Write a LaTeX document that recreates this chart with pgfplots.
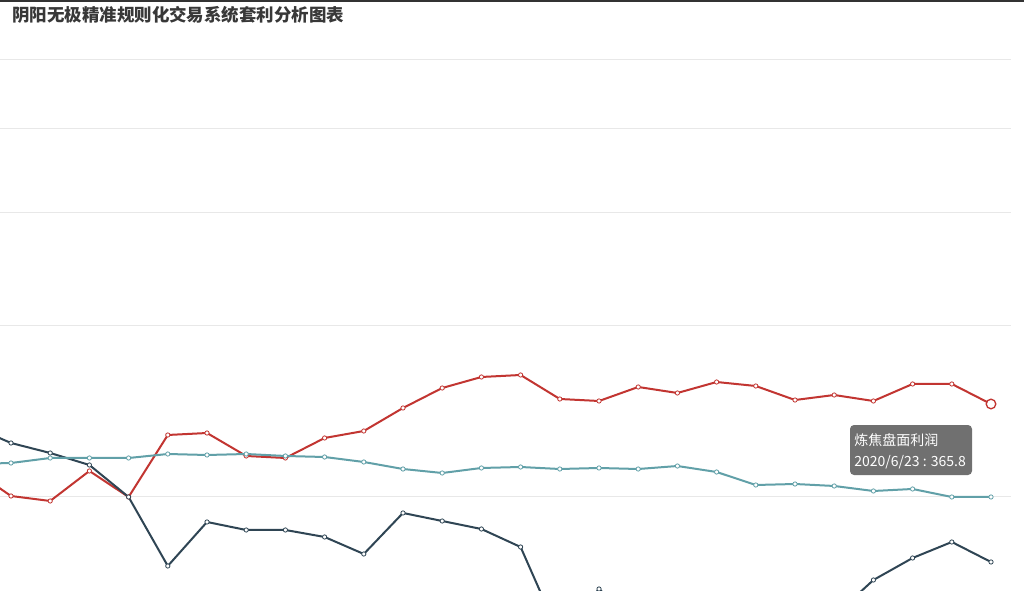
\documentclass[border=0pt]{standalone}
\usepackage{fontspec}
\setmainfont{Noto Sans CJK SC}
\usepackage{pgfplots}
\usepackage{pgfplotstable}
\pgfplotsset{compat=1.18}

\definecolor{ecred}{HTML}{C23531}
\definecolor{ecnavy}{HTML}{2F4554}
\definecolor{ecteal}{HTML}{61A0A8}
\definecolor{titlegray}{HTML}{383838}
\definecolor{tipgray}{HTML}{707070}
\definecolor{gridgray}{HTML}{E8E8E8}
\definecolor{topgray}{HTML}{C8C8C8}

% idx -1 lies left of the visible crop
\pgfplotstableread{
idx red navy teal
-1 110.1 279.3 129.8
0 3.9 212.4 133.7
1 -15.7 173.1 153.4
2 102.3 125.9 153.4
3 0.0 0.0 153.4
4 243.9 -271.4 169.1
5 251.7 -98.3 165.2
6 161.3 -129.8 169.1
7 153.4 -129.8 161.3
8 232.1 -157.3 157.3
9 259.6 -224.2 137.7
10 350.1 -62.9 110.1
11 428.7 -94.4 94.4
12 472.0 -125.9 114.1
13 479.9 -196.7 118.0
14 385.5 -546.7 110.1
15 377.6 -361.9 114.1
16 432.7 -503.5 110.1
17 409.1 -562.5 121.9
18 452.3 -582.1 98.3
19 436.6 -542.8 47.2
20 381.5 -503.5 51.1
21 401.2 -468.1 43.3
22 377.6 -326.5 23.6
23 444.5 -239.9 31.5
24 444.5 -177.0 0.0
25 365.8 -255.7 0.0
}\profit

\begin{document}
\begin{tikzpicture}
\path[use as bounding box] (0pt,0pt) rectangle (768pt,442.5pt);
\clip (0pt,0pt) rectangle (768pt,442.5pt);
\fill[white] (0pt,0pt) rectangle (768pt,442.5pt);
\begin{axis}[
  at={(-50.55pt,397.5pt)}, anchor=north west,
  x=29.4pt, y=0.190678pt,
  xmin=-2, xmax=25.5, ymin=-900, ymax=1718.9,
  axis line style={draw=none},
  xtick=\empty,
  ytick={0,672.6,1117.1,1451.4}, yticklabels={},
  major tick length=0pt,
  ymajorgrids,
  major grid style={color=gridgray, line width=0.75pt},
  extra y ticks={1718.9}, extra y tick labels={},
  extra y tick style={grid style={color=topgray, line width=0.75pt}},
  every axis plot/.append style={line width=1.5pt, mark=*, mark size=1.6pt},
]
\addplot[ecred, mark options={fill=white, line width=0.6pt}] table[x=idx, y=red] {\profit};
\addplot[ecnavy, mark options={fill=white, line width=0.6pt}] table[x=idx, y=navy] {\profit};
\addplot[ecteal, mark options={fill=white, line width=0.6pt}] table[x=idx, y=teal] {\profit};
% hovered point
\addplot[ecred, only marks, mark size=3.6pt, mark options={fill=white, line width=1pt}] coordinates {(25,365.8)};
\end{axis}
\fill[black!80] (0pt,442.5pt) rectangle (768pt,441pt);
\node[anchor=base west, inner sep=0pt, text=titlegray, font=\fontsize{13.1pt}{15pt}\selectfont\bfseries]
  at (9pt,426.3pt) {阴阳无极精准规则化交易系统套利分析图表};
\fill[tipgray, rounded corners=3pt] (637.5pt,123.75pt) rectangle (729pt,86.25pt);
\node[anchor=base west, inner sep=0pt, text=white, font=\fontsize{10.5pt}{12pt}\selectfont]
  at (640.5pt,108.5pt) {炼焦盘面利润};
\node[anchor=base west, inner sep=0pt, text=white, font=\fontsize{10.5pt}{12pt}\selectfont]
  at (640.5pt,92.5pt) {2020/6/23 : 365.8};
\end{tikzpicture}
\end{document}
